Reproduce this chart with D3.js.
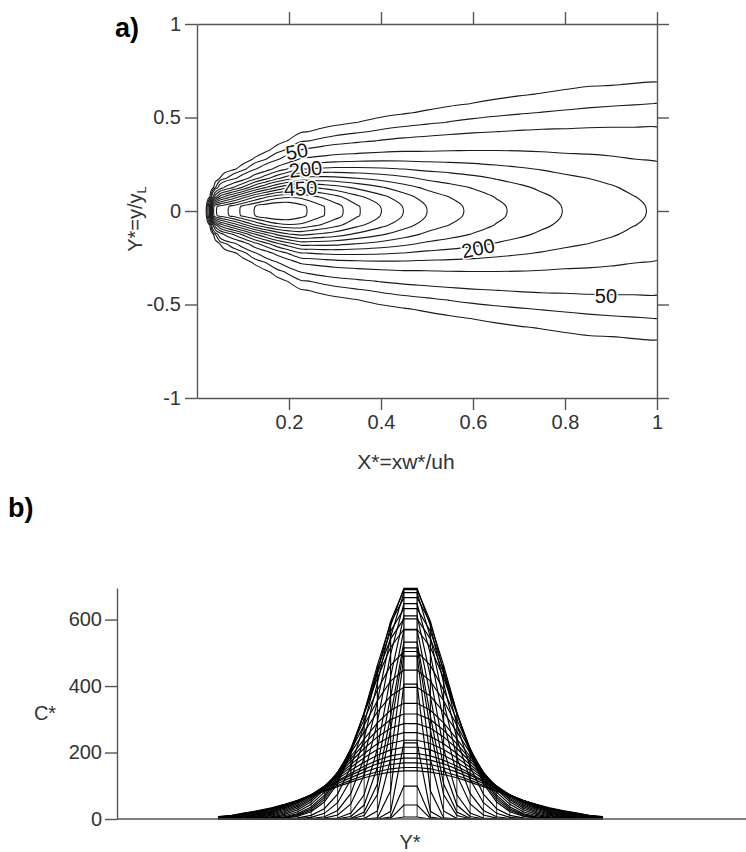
<!DOCTYPE html>
<html>
<head>
<meta charset="utf-8">
<script src="https://cdn.jsdelivr.net/npm/d3@7"></script>
<style>
  body { margin: 0; background: #fff; }
  svg { font-family: "Liberation Sans", Arial, sans-serif; }
  .axis path, .axis line { stroke: #555; stroke-width: 1.4; }
  .axis text { font-size: 20px; fill: #333; }
  .title { font-size: 20px; fill: #333; }
</style>
</head>
<body>
<svg id="chart" width="746" height="852"></svg>
<script>

// X* of each computed profile (grid rows)
var xRows = [0.02, 0.024, 0.027, 0.03, 0.034, 0.04, 0.05, 0.06, 0.08, 0.1,
             0.125, 0.15, 0.175, 0.2, 0.225, 0.25, 0.275, 0.3, 0.35, 0.4,
             0.45, 0.5, 0.55, 0.6, 0.65, 0.7, 0.75, 0.8, 0.85, 0.9, 0.95, 1.0];

// Y* grid points on one side of the centre line (plume is symmetric)
var yHalf = [0.025, 0.075, 0.125, 0.175, 0.225, 0.275, 0.325, 0.375,
             0.425, 0.475, 0.525, 0.575, 0.625, 0.675, 0.725];

// C* at (xRows[i], yHalf[j])
var conc = [
  [6, 0, 0, 0, 0, 0, 0, 0, 0, 0, 0, 0, 0, 0, 0],
  [42, 1.7, 0, 0, 0, 0, 0, 0, 0, 0, 0, 0, 0, 0, 0],
  [99, 6.1, 0, 0, 0, 0, 0, 0, 0, 0, 0, 0, 0, 0, 0],
  [229, 23, 0.2, 0, 0, 0, 0, 0, 0, 0, 0, 0, 0, 0, 0],
  [406, 85, 3.7, 0, 0, 0, 0, 0, 0, 0, 0, 0, 0, 0, 0],
  [490, 180, 24.4, 1.2, 0, 0, 0, 0, 0, 0, 0, 0, 0, 0, 0],
  [515, 269, 73, 10.4, 0.8, 0, 0, 0, 0, 0, 0, 0, 0, 0, 0],
  [532, 310, 105, 20.8, 2.4, 0.2, 0, 0, 0, 0, 0, 0, 0, 0, 0],
  [569, 369, 155, 42, 7.5, 0.9, 0.1, 0, 0, 0, 0, 0, 0, 0, 0],
  [611, 429, 211, 73, 17.7, 3, 0.4, 0, 0, 0, 0, 0, 0, 0, 0],
  [648, 497, 292, 132, 45.5, 12, 2.5, 0.4, 0.1, 0, 0, 0, 0, 0, 0],
  [681, 547, 354, 184, 77, 25.7, 6.9, 1.5, 0.3, 0, 0, 0, 0, 0, 0],
  [694, 582, 409, 241, 119, 49, 17, 5, 1.2, 0.2, 0, 0, 0, 0, 0],
  [690, 595, 443, 284, 157, 75, 31, 11, 3.4, 0.9, 0.2, 0, 0, 0, 0],
  [666, 590, 462, 320, 197, 107, 51, 22, 8.2, 2.7, 0.8, 0.2, 0, 0, 0],
  [633, 565, 450, 320, 203, 115, 58, 26, 10.6, 3.8, 1.2, 0.4, 0.1, 0, 0],
  [602, 542, 438, 319, 209, 123, 65, 31, 13.3, 5.2, 1.8, 0.6, 0.2, 0, 0],
  [571, 517, 424, 316, 212, 130, 72, 36, 16.2, 6.7, 2.5, 0.8, 0.3, 0.1, 0],
  [504, 462, 388, 299, 211, 137, 81, 44, 22, 10, 4.2, 1.6, 0.6, 0.2, 0.1],
  [448, 415, 356, 282, 207, 141, 89, 52, 28, 14, 6.5, 2.8, 1.1, 0.4, 0.1],
  [396, 370, 322, 262, 199, 141, 94, 58, 33, 18, 9, 4.2, 1.9, 0.8, 0.3],
  [348, 327, 289, 240, 188, 138, 95, 62, 38, 21.6, 11.7, 5.9, 2.8, 1.3, 0.5],
  [316, 299, 267, 226, 181, 137, 98, 66, 42.5, 25.7, 14.7, 8, 4.1, 2, 0.9],
  [287, 273, 247, 212, 173, 134.5, 99, 70, 46.5, 29.5, 17.8, 10.2, 5.6, 2.9, 1.4],
  [260, 248, 226.5, 197, 164, 130, 99, 71.6, 49.5, 32.7, 20.6, 12.4, 7.2, 3.9, 2.1],
  [237, 227, 209, 184, 155.5, 126, 98, 73, 52, 35.6, 23.3, 14.7, 8.9, 5.1, 2.8],
  [216, 208, 192, 171, 147, 121, 96, 73, 54, 38, 25.7, 16.8, 10.5, 6.4, 3.7],
  [197, 190, 177, 159, 138, 115, 93, 72.5, 54.5, 39.6, 27.7, 18.7, 12.2, 7.7, 4.7],
  [183, 177, 166, 150, 132, 112, 91.5, 72.7, 55.8, 41.5, 29.8, 20.7, 14, 9.1, 5.7],
  [169, 164, 154, 141, 124.5, 107, 89, 72, 56, 42.7, 31.4, 22.4, 15.5, 9.6, 5.8],
  [155, 151, 142, 131, 117, 101, 85, 70, 55.7, 43.1, 32.4, 23.7, 16.9, 10.6, 6.6],
  [145, 141, 134, 124, 111, 97, 83, 69, 56, 44, 33.7, 25.2, 18.3, 11.2, 7.2]
];

// contour levels of panel a
var levels = [10, 25, 50, 100, 150, 200, 250, 300, 350, 400, 450, 500, 550, 600, 650];
var labelText = ["50", "200", "450", "200", "50"];

var xTicksA = [0.2, 0.4, 0.6, 0.8, 1];
var yTicksA = [-1, -0.5, 0, 0.5, 1];
var yTicksB = [0, 200, 400, 600];

var svg = d3.select("#chart");

// mirror the half profiles so the grid covers -Y .. +Y
var yFull = yHalf.slice().reverse().map(d => -d).concat(yHalf);
var grid = conc.map(r => r.slice().reverse().concat(r));
var nCols = yFull.length, nRows = xRows.length;

/////// panel a : contours
var xa = d3.scaleLinear().domain([0, 1]).range([197, 657]);
var ya = d3.scaleLinear().domain([-1, 1]).range([398, 24]);

svg.append("clipPath").attr("id", "clipA")
  .append("rect")
  .attr("x", xa(0)).attr("y", ya(1))
  .attr("width", xa(1) - xa(0)).attr("height", ya(-1) - ya(1));

var values = [];
grid.forEach(r => r.forEach(v => values.push(v)));

var contours = d3.contours()
  .size([nCols, nRows])
  .thresholds(levels)(values);

// grid index -> data coordinate (rows are not evenly spaced)
var colToY = d3.scaleLinear().domain(d3.range(nCols)).range(yFull);
var rowToX = d3.scaleLinear().domain(d3.range(nRows)).range(xRows);

var ringLine = d3.line()
  .x(p => xa(rowToX(p[1] - 0.5)))
  .y(p => ya(colToY(p[0] - 0.5)))
  .curve(d3.curveCatmullRomClosed.alpha(0.5));

var rings = [];
contours.forEach(function(c) {
  c.coordinates.forEach(function(poly) {
    poly.forEach(function(ring) { rings.push(ring.slice(0, -1)); });
  });
});

svg.append("g")
  .attr("clip-path", "url(#clipA)")
  .selectAll("path")
  .data(rings)
  .enter()
  .append("path")
    .attr("d", ringLine)
    .attr("fill", "none")
    .attr("stroke", "#1a1a1a")
    .attr("stroke-width", 1.1);

// contour labels
var labelPos = [
  {X: 0.217, Y: 0.32, rot: -10},
  {X: 0.236, Y: 0.225, rot: -6},
  {X: 0.225, Y: 0.122, rot: -3},
  {X: 0.611, Y: -0.198, rot: -12},
  {X: 0.889, Y: -0.455, rot: 0}
];
svg.append("g")
  .selectAll("text")
  .data(labelText)
  .enter()
  .append("text")
    .attr("transform", (d, i) => `translate(${xa(labelPos[i].X)},${ya(labelPos[i].Y)}) rotate(${labelPos[i].rot})`)
    .attr("text-anchor", "middle")
    .attr("dy", "0.36em")
    .style("font-size", "20px")
    .style("paint-order", "stroke")
    .attr("stroke", "#fff")
    .attr("stroke-width", 3)
    .attr("fill", "#111")
    .text(d => d);

// frame with outward ticks
svg.append("g").attr("class", "axis")
  .attr("transform", `translate(0,${ya(-1)})`)
  .call(d3.axisBottom(xa).tickValues(xTicksA).tickSize(12).tickPadding(5)
    .tickSizeOuter(0).tickFormat(d => String(d)));
svg.append("g").attr("class", "axis")
  .attr("transform", `translate(0,${ya(1)})`)
  .call(d3.axisTop(xa).tickValues(xTicksA).tickSize(12).tickSizeOuter(0).tickFormat(""));
svg.append("g").attr("class", "axis")
  .attr("transform", `translate(${xa(0)},0)`)
  .call(d3.axisLeft(ya).tickValues(yTicksA).tickSize(12).tickPadding(4)
    .tickSizeOuter(0).tickFormat(d => String(d)));
svg.append("g").attr("class", "axis")
  .attr("transform", `translate(${xa(1)},0)`)
  .call(d3.axisRight(ya).tickValues(yTicksA).tickSize(12).tickSizeOuter(0).tickFormat(""));

svg.append("text").attr("class", "title")
  .attr("x", 406).attr("y", 469)
  .attr("text-anchor", "middle")
  .style("font-size", "21px")
  .text("X*=xw*/uh");

var yTitle = svg.append("text").attr("class", "title")
  .attr("transform", "translate(142,219) rotate(-90)")
  .attr("text-anchor", "middle")
  .style("font-size", "20px")
  .text("Y*=y/y");
yTitle.append("tspan").attr("dy", 4).style("font-size", "13px").text("L");

svg.append("text")
  .attr("x", 115).attr("y", 37)
  .style("font-size", "27px").style("font-weight", "bold")
  .text("a)");

/////// panel b : cross-wind profiles seen along X*
var xb = d3.scaleLinear().domain([-1, 1]).range([410.5 - 265, 410.5 + 265]);
var yb = d3.scaleLinear().domain([0, 695]).range([819, 588]);

var profileLine = d3.line()
  .x((v, j) => xb(yFull[j]))
  .y(v => yb(v));

var gb = svg.append("g");

// one line per X* row
gb.selectAll(".profile")
  .data(grid)
  .enter()
  .append("path")
    .attr("class", "profile")
    .attr("d", profileLine)
    .attr("fill", "none")
    .attr("stroke", "#000")
    .attr("stroke-width", 1.15);

// mesh lines along X* at each Y* point (they project to verticals)
var columns = yFull.map((y, j) => grid.map(r => r[j]));
gb.selectAll(".meshcol")
  .data(columns)
  .enter()
  .append("path")
    .attr("class", "meshcol")
    .attr("d", (col, j) => d3.line().x(() => xb(yFull[j])).y(v => yb(v))(col))
    .attr("fill", "none")
    .attr("stroke", "#000")
    .attr("stroke-width", 0.8);

svg.append("g").attr("class", "axis")
  .attr("transform", "translate(117,0)")
  .call(d3.axisLeft(yb).tickValues(yTicksB).tickSize(12).tickPadding(3).tickSizeOuter(0));

svg.append("line")
  .attr("x1", 117).attr("x2", 746)
  .attr("y1", yb(0)).attr("y2", yb(0))
  .attr("stroke", "#555").attr("stroke-width", 1.4);

svg.append("text").attr("class", "title")
  .attr("x", 45).attr("y", 720)
  .attr("text-anchor", "middle")
  .text("C*");

svg.append("text").attr("class", "title")
  .attr("x", 410).attr("y", 849)
  .attr("text-anchor", "middle")
  .text("Y*");

svg.append("text")
  .attr("x", 8).attr("y", 517)
  .style("font-size", "27px").style("font-weight", "bold")
  .text("b)");

</script>
</body>
</html>
